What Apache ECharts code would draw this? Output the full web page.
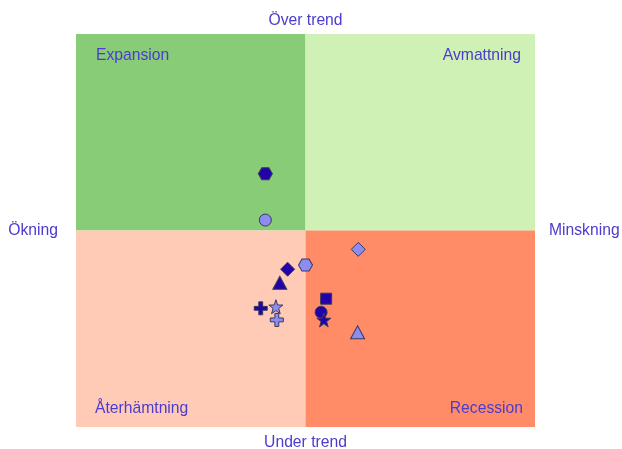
<!DOCTYPE html>
<html>
<head>
<meta charset="utf-8">
<script src="https://cdn.jsdelivr.net/npm/echarts@6/dist/echarts.min.js"></script>
<style>
html, body { margin: 0; padding: 0; background: #fff; }
#chart { width: 622px; height: 449px; }
</style>
</head>
<body>
<div id="chart"></div>
<script>
// konjunkturcykel - quadrant chart

// data
var xValues = [-0.175, -0.175, 0.23, -0.078, 0.0, -0.112, 0.09, -0.195, -0.129, -0.125, 0.068, 0.08, 0.227];
var yValues = [0.289, 0.053, -0.096, -0.197, -0.176, -0.266, -0.347, -0.396, -0.388, -0.455, -0.416, -0.455, -0.518];
var shapes = ['hexagon', 'circle', 'diamond', 'diamond', 'hexagon', 'triangle', 'square', 'plus', 'star', 'plus', 'circle', 'star', 'triangle'];
var tones = ['dark', 'light', 'light', 'dark', 'light', 'dark', 'dark', 'dark', 'light', 'light', 'dark', 'dark', 'light'];
var quadrants = ['Expansion', 'Avmattning', 'Återhämtning', 'Recession'];
var sideLabels = ['Över trend', 'Under trend', 'Ökning', 'Minskning'];

var textColor = '#4b3bcf';
var font = 'Liberation Sans, Arial, sans-serif';
var fontSize = 15.7;

var symbolPaths = {
    hexagon: 'path://M0,5L2.5,0.67L7.5,0.67L10,5L7.5,9.33L2.5,9.33Z',
    circle: 'circle',
    diamond: 'diamond',
    triangle: 'triangle',
    square: 'rect',
    plus: 'path://M3.5,0L6.5,0L6.5,3.5L10,3.5L10,6.5L6.5,6.5L6.5,10L3.5,10L3.5,6.5L0,6.5L0,3.5L3.5,3.5Z',
    star: 'path://M5,0L6.18,3.38L9.76,3.45L6.9,5.62L7.94,9.05L5,7L2.06,9.05L3.1,5.62L0.24,3.45L3.82,3.38Z'
};
var symbolSizes = {
    hexagon: [14, 12],
    circle: 12,
    diamond: 14,
    triangle: [14, 13],
    square: 11,
    plus: [13, 13],
    star: [14, 14]
};
var toneColors = { dark: '#2200aa', light: '#8c8cf2' };

var points = [];
for (var i = 0; i < xValues.length; i++) {
    points.push({
        value: [xValues[i], yValues[i]],
        symbol: symbolPaths[shapes[i]],
        symbolSize: symbolSizes[shapes[i]],
        itemStyle: {
            color: toneColors[tones[i]],
            borderColor: '#3a3a5a',
            borderWidth: 1,
            opacity: 1
        }
    });
}

function quadLabel(pos, offset) {
    return {
        show: true,
        position: pos,
        distance: 5,
        offset: offset,
        color: textColor,
        fontFamily: font,
        fontSize: fontSize
    };
}

var hiddenAxis = {
    min: -1,
    max: 1,
    axisLine: { show: false },
    axisTick: { show: false },
    axisLabel: { show: false },
    splitLine: { show: false },
    nameLocation: 'middle',
    nameTextStyle: { color: textColor, fontFamily: font, fontSize: fontSize }
};

var chart = echarts.init(document.getElementById('chart'));
var option = {
    animation: false,
    grid: { left: 76, right: 87, top: 34, bottom: 22, outerBoundsMode: 'none', containLabel: false },
    xAxis: [
        Object.assign({}, hiddenAxis, { type: 'value', position: 'top', name: sideLabels[0], nameGap: 5 }),
        Object.assign({}, hiddenAxis, { type: 'value', position: 'bottom', name: sideLabels[1], nameGap: 8 })
    ],
    yAxis: [
        Object.assign({}, hiddenAxis, { type: 'value', position: 'left', name: sideLabels[2], nameRotate: 0, nameGap: 18,
            nameTextStyle: { color: textColor, fontFamily: font, fontSize: fontSize, padding: [3, 0, 0, 0] } }),
        Object.assign({}, hiddenAxis, { type: 'value', position: 'right', name: sideLabels[3], nameRotate: 0, nameGap: 14,
            nameTextStyle: { color: textColor, fontFamily: font, fontSize: fontSize, padding: [3, 0, 0, 0] } })
    ],
    series: [{
        type: 'scatter',
        xAxisIndex: 0,
        yAxisIndex: 0,
        data: points,
        z: 5,
        markArea: {
            silent: true,
            data: [
                [{ coord: [-1, 0], itemStyle: { color: '#88cc77' }, label: quadLabel('insideTopLeft', [15, 9]), name: quadrants[0] }, { coord: [0, 1] }],
                [{ coord: [0, 0], itemStyle: { color: '#cff1b5' }, label: quadLabel('insideTopRight', [-9, 9]), name: quadrants[1] }, { coord: [1, 1] }],
                [{ coord: [-1, -1], itemStyle: { color: '#ffcbb7' }, label: quadLabel('insideBottomLeft', [14, -5]), name: quadrants[2] }, { coord: [0, 0] }],
                [{ coord: [0, -1], itemStyle: { color: '#ff8c66' }, label: quadLabel('insideBottomRight', [-7, -5]), name: quadrants[3] }, { coord: [1, 0] }]
            ]
        }
    }]
};
chart.setOption(option);
</script>
</body>
</html>
